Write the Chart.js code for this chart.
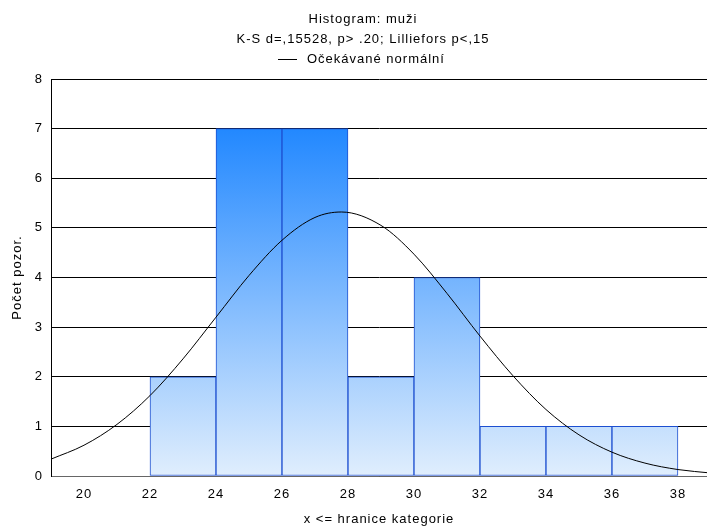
<!DOCTYPE html>
<html><head><meta charset="utf-8">
<script src="https://cdn.jsdelivr.net/npm/chart.js@4.4.1/dist/chart.umd.min.js"></script>
<style>html,body{margin:0;padding:0;background:#fff}#wrap{width:707px;height:528px}</style>
</head><body><div id="wrap"><canvas id="c" width="707" height="528"></canvas></div>
<script>
// histogram bin centres (bins of width 2, upper bound = "x <= hranice kategorie")
const binCenters = [21, 23, 25, 27, 29, 31, 33, 35, 37];
const binCounts  = [0, 2, 7, 7, 2, 4, 1, 1, 1];
// expected normal curve
const curveX = [19, 20, 21, 22, 23, 24, 25, 26, 27, 27.8, 29, 30, 31, 32, 33, 34, 35, 36, 37, 38, 39];
const curveY = [0.34, 0.62, 1.04, 1.62, 2.36, 3.20, 4.04, 4.75, 5.21, 5.32, 5.05, 4.47, 3.68, 2.82, 2.02, 1.34, 0.83, 0.48, 0.26, 0.13, 0.06];
const xTicks = [20, 22, 24, 26, 28, 30, 32, 34, 36, 38];
const yTicks = [0, 1, 2, 3, 4, 5, 6, 7, 8];
const titleLines = ["Histogram: muži", "K-S d=,15528, p> .20; Lilliefors p<,15"];
const legendLabel = "Očekávané normální";
const xTitle = "x <= hranice kategorie";
const yTitle = "Počet pozor.";

const FONT = "'Liberation Sans', Arial, sans-serif";
const SPACING = '1px';

const spacingPlugin = {
  id: 'spacing',
  beforeInit(chart) { chart.ctx.letterSpacing = SPACING; },
  beforeUpdate(chart) { chart.ctx.letterSpacing = SPACING; },
  beforeLayout(chart) { chart.ctx.letterSpacing = SPACING; },
  beforeDraw(chart) { chart.ctx.letterSpacing = SPACING; }
};

const titlePlugin = {
  id: 'titles',
  afterDraw(chart) {
    const ctx = chart.ctx;
    ctx.save();
    ctx.letterSpacing = SPACING;
    ctx.fillStyle = '#000';
    ctx.font = "13px " + FONT;
    ctx.textAlign = 'center';
    ctx.textBaseline = 'alphabetic';
    ctx.fillText(titleLines[0], 363, 23);
    ctx.fillText(titleLines[1], 363, 43);
    ctx.textAlign = 'left';
    ctx.fillText(legendLabel, 307, 63);
    ctx.strokeStyle = '#000';
    ctx.lineWidth = 1;
    ctx.beginPath();
    ctx.moveTo(278, 59.5);
    ctx.lineTo(297, 59.5);
    ctx.stroke();
    ctx.restore();
  }
};

function barGradient(context) {
  const chart = context.chart;
  const area = chart.chartArea;
  if (!area) return '#7ab8ff';
  const ys = chart.scales.y;
  const g = chart.ctx.createLinearGradient(0, ys.getPixelForValue(7), 0, ys.getPixelForValue(0));
  g.addColorStop(0, '#2288ff');
  g.addColorStop(1, '#e0eefd');
  return g;
}

new Chart(document.getElementById('c'), {
  data: {
    datasets: [
      {
        type: 'line',
        label: legendLabel,
        data: curveX.map((x, i) => ({x: x, y: curveY[i]})),
        borderColor: '#000',
        borderWidth: 1,
        pointRadius: 0,
        tension: 0.4,
        cubicInterpolationMode: 'monotone',
        fill: false,
        order: 0
      },
      {
        type: 'bar',
        label: 'Počet',
        data: binCenters.map((x, i) => ({x: x, y: binCounts[i]})),
        backgroundColor: barGradient,
        borderColor: '#1d4fd0',
        borderWidth: 1,
        borderSkipped: false,
        barPercentage: 1,
        categoryPercentage: 1,
        order: 1
      }
    ]
  },
  options: {
    responsive: false,
    animation: false,
    devicePixelRatio: 1,
    layout: {padding: {top: 79, right: 0, bottom: 0, left: 0}},
    plugins: {legend: {display: false}, title: {display: false}, tooltip: {enabled: false}},
    scales: {
      x: {
        type: 'linear',
        offset: false,
        min: 19,
        max: 38.88,
        afterBuildTicks: s => { s.ticks = xTicks.map(v => ({value: v})); },
        afterFit: s => { s.height = 52; },
        grid: {display: false, drawTicks: false, offset: false},
        border: {display: true, color: '#666', width: 1},
        ticks: {color: '#000', font: {family: FONT, size: 13}, padding: 11, maxRotation: 0, autoSkip: false},
        title: {display: true, text: xTitle, color: '#000', font: {family: FONT, size: 13}, padding: {top: 0, bottom: 1}}
      },
      y: {
        type: 'linear',
        min: 0,
        max: 8,
        afterBuildTicks: s => { s.ticks = yTicks.map(v => ({value: v})); },
        afterFit: s => { s.width = 51; },
        grid: {color: '#000', lineWidth: 1, drawTicks: false},
        border: {display: true, color: '#000', width: 1},
        ticks: {color: '#000', font: {family: FONT, size: 13}, padding: 8},
        title: {display: true, text: yTitle, color: '#000', font: {family: FONT, size: 13}, padding: {top: 10, bottom: 0}}
      }
    }
  },
  plugins: [spacingPlugin, titlePlugin]
});
</script>
</body></html>
